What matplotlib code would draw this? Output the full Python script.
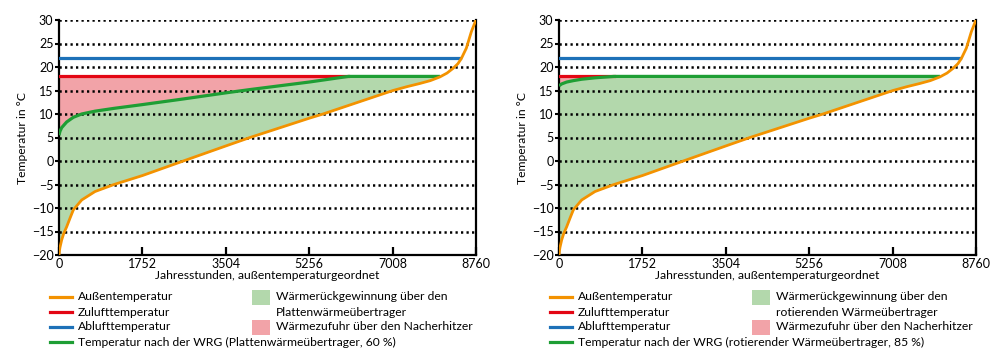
import numpy as np
import matplotlib
matplotlib.use("Agg")
import matplotlib.pyplot as plt
from matplotlib.lines import Line2D
from matplotlib.patches import Rectangle

plt.rcParams['font.family'] = ['Lato', 'DejaVu Sans']

# Jahresdauerlinie der Außentemperatur
stunden_aussen = [0, 8, 20, 56, 100, 161, 230, 301, 476, 756, 1155, 1752, 2611,
                  3504, 4012, 5256, 5546, 7016, 7303, 7583, 7800, 8004, 8150,
                  8277, 8380, 8452, 8557, 8662, 8720, 8760]
temp_aussen = [-20, -19.2, -18.4, -16.8, -15.4, -14, -12.2, -10.4, -8.3, -6.5, -5,
               -3.1, 0, 3.2, 5, 9.1, 10, 15, 15.8, 16.5, 17.1, 17.9, 18.7,
               19.7, 20.7, 21.8, 24, 27.5, 29, 30]

# Temperatur nach der WRG
stunden_wrg_60 = [0, 20, 56, 161, 301, 476, 756, 1155, 1752, 2611, 3504, 4012,
                  5256, 6080, 8004]
temp_wrg_60 = [5.5, 6.3, 7.1, 8.3, 9.3, 10.0, 10.6, 11.2, 12.0, 13.2, 14.5, 15.2,
               16.8, 18.0, 18.0]

stunden_wrg_85 = [0, 56, 161, 301, 476, 756, 1155, 8004]
temp_wrg_85 = [16.0, 16.4, 16.8, 17.1, 17.4, 17.7, 18.0, 18.0]

zuluft = 18
abluft = 22
ende_zuluft = [6080, 1155]
ende_abluft = 8424

x_ticks = [0, 1752, 3504, 5256, 7008, 8760]
y_ticks = [-20, -15, -10, -5, 0, 5, 10, 15, 20, 25, 30]

wrg_namen = ["Plattenwärmeübertrager", "rotierenden Wärmeübertrager"]
wrg_legende = ["Temperatur nach der WRG (Plattenwärmeübertrager, 60 %)",
               "Temperatur nach der WRG (rotierender Wärmeübertrager, 85 %)"]

c_orange = "#F39200"
c_rot = "#E30613"
c_blau = "#1D71B8"
c_gruen = "#1E9E34"
c_gruen_hell = "#B3D8AC"
c_rot_hell = "#F2A3A8"

W, H = 1000, 359
fig = plt.figure(figsize=(W / 100, H / 100), dpi=100)
fs = 8.7


def panel(nr, st_wrg, t_wrg, ende_rot):
    x0 = nr * 500
    ax = fig.add_axes([(x0 + 59) / W, 1 - 255 / H, 417 / W, 235 / H])
    xx = np.linspace(0, 8760, 3000)
    o = np.interp(xx, stunden_aussen, temp_aussen)
    g = np.interp(xx, st_wrg, t_wrg, right=np.nan)
    ax.fill_between(xx, o, g, where=(g >= o) & (xx <= st_wrg[-1]),
                    color=c_gruen_hell, lw=0, zorder=1)
    ax.fill_between(xx, g, zuluft, where=g < zuluft, color=c_rot_hell, lw=0, zorder=1)
    for y in y_ticks[1:]:
        ax.axhline(y, color="black", lw=1.8, ls=(0, (0.9, 1.3)), zorder=2)
    ax.plot([0, ende_abluft], [abluft, abluft], color=c_blau, lw=2.3, zorder=3)
    ax.plot([0, ende_rot], [zuluft, zuluft], color=c_rot, lw=2.3, zorder=3)
    ax.plot(st_wrg, t_wrg, color=c_gruen, lw=2.3, zorder=4, solid_capstyle="butt")
    ax.plot(stunden_aussen, temp_aussen, color=c_orange, lw=2.0, zorder=5)
    ax.set_xlim(0, 8760)
    ax.set_ylim(-20, 30)
    ax.set_xticks(x_ticks)
    ax.set_yticks(y_ticks)
    ax.set_yticklabels([str(v).replace("-", "\u2212") for v in y_ticks])
    ax.spines["top"].set_visible(False)
    for s in ["left", "right", "bottom"]:
        ax.spines[s].set_linewidth(1.6)
    ax.tick_params(axis="x", direction="in", length=6, width=1.6, labelsize=9, pad=2)
    ax.tick_params(axis="y", direction="out", length=3, width=1.5, labelsize=9, pad=1)
    ax.set_ylabel("Temperatur in °C", fontsize=fs, labelpad=3)
    ax.set_xlabel("Jahresstunden, außentemperaturgeordnet", fontsize=fs, labelpad=0)

    # Legende
    linien = [("Außentemperatur", c_orange), ("Zulufttemperatur", c_rot),
              ("Ablufttemperatur", c_blau), (wrg_legende[nr], c_gruen)]
    for i, (txt, c) in enumerate(linien):
        py = 297 + 15 * i
        fig.add_artist(Line2D([(x0 + 50) / W, (x0 + 72) / W], [1 - py / H] * 2,
                              color=c, lw=2.3))
        fig.text((x0 + 78) / W, 1 - py / H, txt, fontsize=fs, va="center")
    for py, c in [(297, c_gruen_hell), (327, c_rot_hell)]:
        fig.add_artist(Rectangle(((x0 + 252) / W, 1 - (py + 7.5) / H), 18 / W, 15 / H,
                                 color=c, lw=0))
    fig.text((x0 + 276) / W, 1 - 297 / H, "Wärmerückgewinnung über den", fontsize=fs, va="center")
    fig.text((x0 + 276) / W, 1 - 312 / H, wrg_namen[nr], fontsize=fs, va="center")
    fig.text((x0 + 276) / W, 1 - 327 / H, "Wärmezufuhr über den Nacherhitzer", fontsize=fs, va="center")


panel(0, stunden_wrg_60, temp_wrg_60, ende_zuluft[0])
panel(1, stunden_wrg_85, temp_wrg_85, ende_zuluft[1])

fig.savefig("out.png", dpi=100)
